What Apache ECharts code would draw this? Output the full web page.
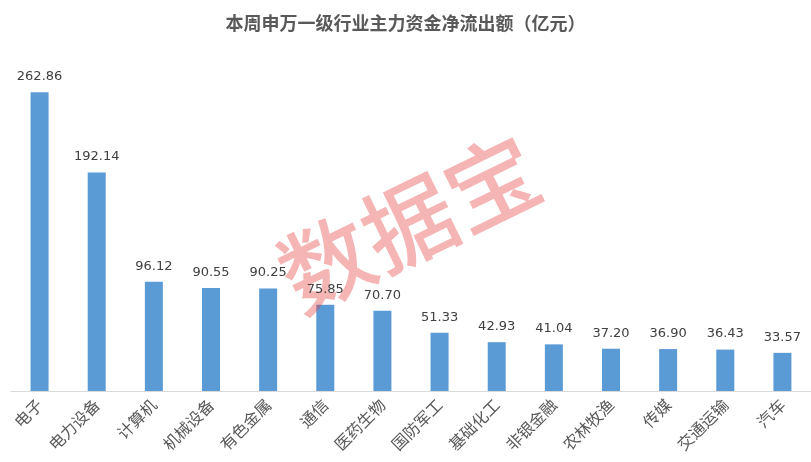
<!DOCTYPE html>
<html>
<head>
<meta charset="utf-8">
<script src="https://cdn.jsdelivr.net/npm/echarts@6/dist/echarts.min.js"></script>
<style>html,body{margin:0;padding:0;background:#fff}#c{width:811px;height:462px}</style>
</head>
<body>
<div id="c"></div>
<script>
const titleText = '本周申万一级行业主力资金净流出额（亿元）';
const categories = ['电子','电力设备','计算机','机械设备','有色金属','通信','医药生物','国防军工','基础化工','非银金融','农林牧渔','传媒','交通运输','汽车'];
const outflow = [262.86,192.14,96.12,90.55,90.25,75.85,70.70,51.33,42.93,41.04,37.20,36.90,36.43,33.57];
const watermark = '数据宝';

const chart = echarts.init(document.getElementById('c'), null, {renderer:'canvas'});
chart.setOption({
  animation:false,
  backgroundColor:'#ffffff',
  title:{
    text:titleText, left:'center', top:9,
    textStyle:{fontFamily:'Noto Sans CJK SC', fontSize:18, fontWeight:'bold', color:'#595959'}
  },
  grid:{left:11, right:0, top:50, bottom:71, containLabel:false},
  xAxis:{
    type:'category', data:categories,
    axisLine:{lineStyle:{color:'#D9D9D9', width:1}},
    axisTick:{show:false},
    axisLabel:{interval:0, rotate:45, margin:11, color:'#595959', fontSize:16, fontFamily:'Noto Sans CJK SC'}
  },
  yAxis:{type:'value', min:0, max:300, show:false, splitLine:{show:false}},
  graphic:[{
    type:'text', x:409, y:223, rotation:26*Math.PI/180, z:3,
    style:{text:watermark, fontSize:92, fontWeight:500, fontFamily:'Noto Sans CJK SC', fill:'rgba(230,60,60,0.38)', align:'center', verticalAlign:'middle'}
  }],
  series:[
    {type:'bar', data:outflow, barWidth:18, z:2, itemStyle:{color:'#5B9BD5'}, silent:true},
    {type:'bar', data:outflow, barWidth:18, barGap:'-100%', z:4, itemStyle:{color:'rgba(0,0,0,0)'},
     label:{show:true, position:'top', distance:9, color:'#404040', fontSize:13, fontFamily:'DejaVu Sans',
       formatter:p=>p.value.toFixed(2)}}
  ]
});
</script>
</body>
</html>
